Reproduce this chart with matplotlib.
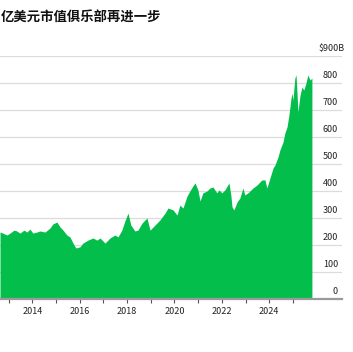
import matplotlib
matplotlib.use("Agg")
import matplotlib.pyplot as plt

plt.rcParams['font.family'] = ['Noto Sans CJK SC', 'DejaVu Sans']

TITLE = "亿美元市值俱乐部再进一步"
GREEN = "#04BE4C"

# market cap, $bn (decimal year -> value)
years = [
    2012.64, 2012.76, 2012.93, 2013.06, 2013.23, 2013.35, 2013.48, 2013.65, 2013.78, 2013.90,
    2014.03, 2014.20, 2014.32, 2014.54, 2014.75, 2014.87, 2015.04, 2015.17, 2015.30, 2015.46,
    2015.59, 2015.72, 2015.84, 2016.01, 2016.14, 2016.35, 2016.56, 2016.73, 2016.86, 2017.07,
    2017.28, 2017.49, 2017.62, 2017.78, 2017.91, 2018.04, 2018.16, 2018.33, 2018.46, 2018.63,
    2018.84, 2018.97, 2019.18, 2019.39, 2019.60, 2019.73, 2019.94, 2020.11, 2020.23, 2020.36,
    2020.53, 2020.65, 2020.78, 2020.87, 2020.99, 2021.08, 2021.20, 2021.37, 2021.50, 2021.62,
    2021.79, 2021.88, 2022.00, 2022.13, 2022.30, 2022.38, 2022.43, 2022.51, 2022.64, 2022.76,
    2022.89, 2022.97, 2023.14, 2023.31, 2023.48, 2023.69, 2023.82, 2023.90, 2024.03, 2024.16,
    2024.24, 2024.37, 2024.45, 2024.58, 2024.66, 2024.75, 2024.83, 2024.92, 2024.96, 2025.00,
    2025.08, 2025.13, 2025.17, 2025.21, 2025.30, 2025.38, 2025.46, 2025.55, 2025.63, 2025.72,
    2025.80,
]
mcap = [
    248, 244, 237, 244, 255, 252, 244, 255, 248, 259,
    244, 248, 252, 248, 263, 278, 285, 267, 255, 237,
    230, 207, 189, 193, 207, 218, 226, 218, 226, 207,
    226, 237, 230, 255, 289, 318, 274, 252, 255, 281,
    300, 255, 274, 293, 318, 337, 330, 311, 348, 337,
    381, 400, 419, 430, 404, 363, 393, 400, 411, 415,
    393, 404, 393, 404, 430, 385, 341, 330, 359, 374,
    411, 385, 396, 411, 422, 441, 441, 411, 448, 485,
    496, 526, 552, 581, 615, 637, 681, 744, 763, 737,
    818, 830, 767, 693, 755, 785, 774, 800, 830, 811,
    818,
]

y_ticks = [0, 100, 200, 300, 400, 500, 600, 700, 800, 900]
y_labels = ["0", "100", "200", "300", "400", "500", "600", "700", "800", "$900B"]
x_major = [2014, 2016, 2018, 2020, 2022, 2024]
x_minor = [2013, 2015, 2017, 2019, 2021, 2023, 2025]

fig = plt.figure(figsize=(3.53, 3.52), dpi=100)
ax = fig.add_axes([0, 53 / 352, 342 / 353, 243 / 352])

for v in y_ticks[1:]:
    ax.axhline(v, color="#dcdcdc", lw=0.9, zorder=1)

ax.fill_between(years, mcap, 0, color=GREEN, lw=0, zorder=2)

ax.set_xlim(2012.64, 2027.07)
ax.set_ylim(0, 900)

for s in ["top", "right", "left"]:
    ax.spines[s].set_visible(False)
ax.spines["bottom"].set_color("#9a9a9a")
ax.spines["bottom"].set_linewidth(1.6)
ax.spines["bottom"].set_zorder(3)

ax.set_yticks([])
ax.set_xticks(x_major)
ax.set_xticklabels([str(y) for y in x_major])
ax.set_xticks(x_minor, minor=True)
ax.tick_params(axis="x", which="both", length=3, width=0.8, color="#555555",
               labelsize=6.5, labelcolor="#222222", pad=3)

# right-side value labels sitting just above gridlines
for v, lab in zip(y_ticks, y_labels):
    ax.annotate(lab, xy=(338 / 342, v), xycoords=ax.get_yaxis_transform(),
                xytext=(0 if v < 900 else 4.5, 5.2), textcoords="offset points",
                ha="right", va="center", fontsize=6.5, color="#222222", zorder=4)

fig.text(1 / 353, 1 - 17.5 / 352, TITLE, ha="left", va="center",
         fontsize=9.6, fontweight="bold", color="#111111")

fig.savefig("out.png", dpi=100)
